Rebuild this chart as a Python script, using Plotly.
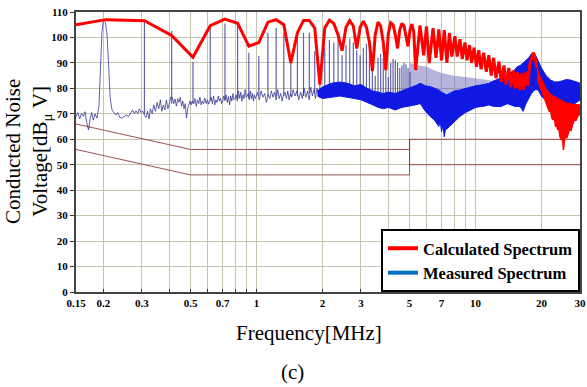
import plotly.graph_objects as go

# ---------------- data ----------------
# Calculated spectrum (red) – vertices at harmonics / lobe peaks & dips
RED_F = [0.15, 0.205, 0.308, 0.41, 0.513, 0.615, 0.718, 0.82, 0.923, 1.025,
         1.128, 1.23, 1.333, 1.435, 1.538, 1.64, 1.743, 1.845, 1.948, 2.05,
         2.153, 2.255, 2.358, 2.46, 2.563, 2.665, 2.768, 2.87, 2.973, 3.075,
         3.178, 3.28, 3.383, 3.485, 3.588, 3.69, 3.793, 3.895, 3.998, 4.1,
         4.203, 4.305, 4.408, 4.51, 4.613, 4.715, 4.818, 4.92, 5.023, 5.125,
         5.228, 5.33, 5.58, 5.8, 5.97, 6.15, 6.4, 6.6, 6.8, 7.0, 7.2, 7.4, 7.6,
         7.8, 8.05, 8.25, 8.5, 8.7, 8.95, 9.15, 9.4, 9.6, 9.85, 10.1, 10.35,
         10.6, 10.9, 11.2, 11.5, 11.8, 12.1, 12.4, 12.8, 13.1, 13.5, 13.8,
         14.2, 14.5, 14.9, 15.2, 15.6, 15.9, 16.3, 16.6, 17.0, 17.3, 17.7,
         18.1, 18.4, 18.7, 19.1]
RED_V = [105, 107, 106.6, 100.8, 92.2, 104.6, 107.2, 105.6, 96.6, 98.0,
         106, 107, 105, 90, 101.8, 106.7, 106.7, 103.7, 81.5, 103.7,
         106.8, 105.5, 101, 94.8, 104, 106.6, 104.5, 95.7, 104, 106.4,
         104, 98, 86.8, 101, 106, 104.5, 98, 87.2, 101.5, 105.8,
         105, 101, 95.7, 103, 105.5, 104.5, 100.5, 96.5, 103, 105.3,
         102, 87.2, 104.7, 93, 104.3, 89.9, 103.7, 92, 103.2, 91, 102.9, 90, 101.8,
         92.5, 100.5, 92.5, 99.3, 91.5, 98, 91, 97, 90, 96, 88.5, 95,
         87.5, 94, 86.5, 93, 85, 92, 84, 90.5, 82.5, 89, 81.5,
         88, 80.5, 87, 80, 86.3, 79.5, 86, 79.5, 86.5, 81, 89.5,
         92.5, 94, 92, 88]
# red dense region above 19 MHz: upper and lower edges
RED_TOP_F = [19.1, 19.7, 20.4, 21.1, 22.0, 23.5, 25.0, 26.1, 28.0, 30.0]
RED_TOP_V = [88, 84.6, 82, 79.4, 77.5, 76.1, 75, 74.1, 73.7, 73.5]
RED_BOT_F = [19.1, 19.7, 20.2, 20.6, 21.0, 21.3, 21.7, 22.0, 22.3, 22.6, 22.9,
             23.2, 23.5, 23.7, 24.0, 24.3, 24.7, 24.9, 25.2, 25.5, 25.8, 26.1,
             26.5, 26.9, 27.3, 27.8, 28.3, 28.8, 29.3, 29.7, 30.0]
RED_BOT_V = [84, 80.7, 78, 76, 74, 72.8, 71, 71.5, 68.5, 67.6, 68.5,
             65, 66, 63.7, 64.5, 61, 59.7, 62, 55.8, 60, 61.5, 60.5,
             62.5, 64, 63.5, 66, 67.6, 67.5, 69, 69.5, 70]

# Measured spectrum (blue) – low-frequency trace
FLOOR_F = [0.150, 0.153, 0.156, 0.159, 0.162, 0.165, 0.168, 0.171, 0.174, 0.177,
           0.180, 0.183, 0.187, 0.191, 0.194, 0.197, 0.200, 0.204, 0.208, 0.211,
           0.215, 0.219, 0.223, 0.228, 0.233, 0.238, 0.243, 0.249, 0.255, 0.261,
           0.267, 0.272, 0.277, 0.282, 0.287, 0.292, 0.297, 0.303, 0.308, 0.313,
           0.318, 0.323, 0.328, 0.334, 0.340, 0.346, 0.352, 0.358, 0.364, 0.370,
           0.376, 0.382, 0.388, 0.394, 0.400, 0.406, 0.413, 0.419, 0.425, 0.431,
           0.437, 0.443, 0.449, 0.455, 0.461, 0.467, 0.473, 0.479, 0.485, 0.491,
           0.497, 0.503, 0.509, 0.517, 0.524, 0.531, 0.538, 0.545, 0.552, 0.559,
           0.566, 0.573, 0.581, 0.589, 0.597, 0.605, 0.613, 0.621, 0.629, 0.637,
           0.645, 0.653, 0.661, 0.669, 0.677, 0.685, 0.693, 0.701, 0.709, 0.718,
           0.727, 0.736, 0.745, 0.754, 0.763, 0.772, 0.781, 0.790, 0.799, 0.808,
           0.818, 0.828, 0.838, 0.848, 0.858, 0.868, 0.878, 0.888, 0.898, 0.908,
           0.918, 0.928, 0.938, 0.948, 0.958, 0.968, 0.978, 0.988, 0.998, 1.01,
           1.03, 1.05, 1.07, 1.09, 1.11, 1.13, 1.15, 1.17, 1.19, 1.21, 1.23, 1.25,
           1.27, 1.29, 1.31, 1.33, 1.35, 1.37, 1.39, 1.41, 1.43, 1.45, 1.47, 1.50,
           1.53, 1.56, 1.59, 1.62, 1.65, 1.68, 1.71, 1.74, 1.77, 1.80, 1.83, 1.86,
           1.89, 1.92, 1.95]
FLOOR_V = [68.9, 70.5, 68.0, 70.2, 69.0, 70.8, 66.5, 63.7, 68.0, 70.5,
           67.5, 70.0, 68.3, 73, 88, 102, 106.8, 106.2, 101, 88,
           76, 71.5, 70.5, 69.5, 70.5, 68.5, 68.3, 68.8, 69.5, 69.0,
           70.5, 71.5, 70.0, 71.2, 70.0, 72.0, 70.5, 71, 69.5, 68.5,
           71.0, 68.0, 72.0, 70.0, 73.5, 71.0, 74.5, 72.0, 75.5, 71.0,
           73.5, 71.5, 75.4, 72.0, 74.0, 76.5, 76.5, 74.0, 75.8, 73.0,
           76.0, 74.5, 76.5, 73.0, 75.0, 72.0, 74.0, 68.3, 72.0, 74.0,
           75.0, 73.5, 75, 74.0, 76.0, 73.0, 75.5, 74.0, 76.5, 73.5,
           75.0, 74.0, 76.2, 74.0, 75.5, 73.8, 75.5, 76.5, 74.0, 77.0,
           73.5, 75.5, 74.5, 77.0, 75.0, 76.2, 74.0, 75.0, 77.0, 75.5,
           77.5, 74.5, 76.8, 73.5, 77.0, 75.0, 78.0, 75.5, 76.0, 77.5,
           75.0, 79.0, 76.0, 78.5, 75.0, 77.5, 76.0, 79.5, 76.5, 77.0,
           78.0, 75.5, 79.0, 76.0, 78.0, 75.0, 77.5, 76.0, 77.0, 78.5,
           75.5, 79.0, 76.5, 78.0, 74.5, 77.5, 76.0, 79.0, 76.5, 78.5, 75.5, 79.5,
           76.0, 78.0, 75.0, 77.5, 78.5, 76.0, 79.0, 75.5, 78.0, 76.5, 79.5, 77,
           79.0, 75.5, 78.5, 76.0, 80.0, 76.5, 79.0, 75.5, 80.5, 77.0, 79.5, 76.0,
           80.0, 77.5, 79.0]

# harmonic spikes of the measured spectrum
SPIKE_F = [0.308, 0.41, 0.513, 0.615, 0.718, 0.82, 0.923, 1.025, 1.128, 1.23,
           1.333, 1.435, 1.538, 1.64, 1.743, 1.845, 1.948, 2.05, 2.153, 2.255,
           2.358, 2.46, 2.563, 2.665, 2.768, 2.87, 2.973, 3.075, 3.178, 3.28,
           3.383, 3.485, 3.588, 3.69, 3.793, 3.895, 3.998, 4.1, 4.203, 4.305,
           4.408, 4.51, 4.613, 4.715, 4.818, 4.92, 5.023]
SPIKE_V = [106.2, 102.5, 90.5, 104.3, 105.5, 105.2, 94, 92.7, 101.8, 103.7,
           101.8, 90, 99.8, 101.8, 101.8, 94.7, 85.4, 95.9, 99, 98,
           101, 93, 97, 99.5, 98, 95, 93, 96, 97.5, 95,
           88, 85, 92, 93.5, 92, 89, 84.5, 90, 91.5, 91,
           90, 88, 89, 90, 89.5, 88, 86.5]
SPIKE_BASE = [70, 74, 74, 75, 75, 76, 76, 77, 77, 77,
              77, 77, 77, 77, 78, 78, 78, 78, 79, 79,
              79, 79, 79, 78, 78, 78, 78, 78, 77, 77,
              76, 76, 75, 75, 75, 75, 75, 75, 75, 75,
              75, 75, 76, 76, 76, 77, 77]

# dense measured band (1.9 – 30 MHz)
BAND_TOP_F = [1.9, 2.0, 2.2, 2.4, 2.6, 2.8, 3.0, 3.2, 3.4, 3.6, 3.8,
              4.0, 4.3, 4.6, 5.0, 5.3, 5.6, 5.9, 6.2, 6.5, 6.8, 7.0, 7.2, 7.4,
              7.6, 8.0, 8.5, 9.0, 9.5, 10, 10.5, 11, 11.5, 12, 13, 14, 15, 15.5,
              16, 16.5, 17, 17.5, 18, 18.4, 18.8, 19.3, 20, 21, 22, 23, 24, 25,
              26, 27, 28, 29, 30]
BAND_TOP_V = [79, 80.5, 82, 82.5, 82, 81, 81.5, 80, 79, 78.5, 78,
              78.5, 78, 79, 80, 81, 82, 81, 80.7, 80, 79.4, 78.5, 78, 77.5,
              78, 79, 79.4, 80, 80.7, 81, 81.3, 81.8, 82, 82.8, 84, 85.5, 87, 88.5,
              89, 90, 91, 92, 93.5, 94, 93, 91, 88, 85, 83.3, 82.5, 82.6, 83,
              83.5, 83.3, 83, 82.5, 82]
BAND_BOT_F = [1.9, 2.0, 2.2, 2.4, 2.6, 2.8, 3.0, 3.2, 3.4, 3.6, 3.8,
              4.0, 4.3, 4.6, 5.0, 5.3, 5.6, 5.9, 6.2, 6.4, 6.5, 6.7, 6.8, 6.9,
              7.0, 7.1, 7.2, 7.3, 7.4, 7.6, 8.0, 8.5, 9.0, 9.5, 10, 10.5, 11,
              11.5, 12, 13, 14, 15, 16, 16.5, 17, 17.5, 18, 18.4, 18.8, 19.3,
              20, 21, 22, 23, 24, 25, 26, 27, 28, 29, 30]
BAND_BOT_V = [77, 76, 76.5, 77, 76.5, 76, 75.5, 74.5, 73.5, 72.5,
              72, 72.5, 71.5, 72.5, 73, 73.5, 74, 71, 69, 68, 67.5, 66, 65, 67,
              63, 65.5, 61, 64, 64, 65, 67, 69, 70.5, 71.5, 72.5, 72.8, 73,
              73.5, 73, 72.8, 74, 73, 72.8, 71, 74, 76, 78, 79, 79.5, 79.4,
              77, 75, 73.5, 73, 72.8, 73.5, 73, 72.8, 73.5, 74.5, 75.4]
# lighter overlapping spikes above the band (5 – 12 MHz)
LAV_F = [5.0, 5.5, 6.0, 6.5, 7.0, 7.5, 8.0, 9.0, 10.0, 11.0, 12.0]
LAV_V = [90, 89, 88.5, 87, 86, 85.5, 85, 84.5, 84, 83.5, 83]
LAV_BASE = [80, 81.5, 81, 80, 78.5, 77.8, 79, 80, 81, 81.8, 82.8]

# limit lines
LIM_F = [0.15, 0.5, 5, 5, 30]
LIM_QP = [66, 56, 56, 60, 60]
LIM_AV_F = [0.15, 0.5, 5, 5, 5, 30]
LIM_AV = [56, 46, 46, 60, 50, 50]

X_TICKS = [0.15, 0.2, 0.3, 0.4, 0.5, 0.6, 0.7, 0.8, 0.9, 1, 2, 3, 4, 5, 6, 7, 8, 9, 10, 20, 30]
X_TEXT = ["0.15", "0.2", "0.3", "", "0.5", "", "0.7", "", "", "1", "2", "3", "", "5", "", "7", "", "", "10", "20", "30"]
Y_TICKS = list(range(0, 111, 10))

SERIF = "Liberation Serif"
RED = "#ff0000"
BLUE_DENSE = "rgb(15,25,225)"
BLUE_THIN = "rgba(45,45,140,0.75)"
LIMIT = "rgba(145,60,60,0.9)"

fig = go.Figure()

# limit lines
fig.add_trace(go.Scatter(x=LIM_F, y=LIM_QP, mode="lines", line=dict(color=LIMIT, width=1), showlegend=False))
fig.add_trace(go.Scatter(x=LIM_AV_F, y=LIM_AV, mode="lines", line=dict(color=LIMIT, width=1), showlegend=False))

# lavender overlapping spikes region
fig.add_trace(go.Scatter(x=LAV_F + LAV_F[::-1], y=LAV_V + LAV_BASE[::-1], mode="lines",
                         fill="toself", fillcolor="rgba(105,105,185,0.5)",
                         line=dict(width=0), showlegend=False))

# measured low-frequency trace
fig.add_trace(go.Scatter(x=FLOOR_F, y=FLOOR_V, mode="lines", line=dict(color=BLUE_THIN, width=1), showlegend=False))

# harmonic spikes
sx, sy = [], []
for f, v, b in zip(SPIKE_F, SPIKE_V, SPIKE_BASE):
    sx += [f, f, None]
    sy += [b, v, None]
fig.add_trace(go.Scatter(x=sx, y=sy, mode="lines", line=dict(color=BLUE_THIN, width=1.2), showlegend=False))

# dense band
fig.add_trace(go.Scatter(x=BAND_TOP_F + BAND_BOT_F[::-1], y=BAND_TOP_V + BAND_BOT_V[::-1],
                         mode="lines", fill="toself", fillcolor=BLUE_DENSE,
                         line=dict(color=BLUE_DENSE, width=1), showlegend=False))

# calculated spectrum
fig.add_trace(go.Scatter(x=RED_F, y=RED_V, mode="lines", line=dict(color=RED, width=3), showlegend=False))
fig.add_trace(go.Scatter(x=RED_TOP_F + RED_BOT_F[::-1], y=RED_TOP_V + RED_BOT_V[::-1],
                         mode="lines", fill="toself", fillcolor=RED,
                         line=dict(color=RED, width=1.5), showlegend=False))

# legend entries
fig.add_trace(go.Scatter(x=[None], y=[None], mode="lines", name="Calculated Spectrum",
                         line=dict(color="#ff0000", width=4)))
fig.add_trace(go.Scatter(x=[None], y=[None], mode="lines", name="Measured Spectrum",
                         line=dict(color="#0070c0", width=4)))

grid = "rgb(200,196,178)"
fig.update_layout(
    width=587, height=387,
    margin=dict(l=76, r=7, t=12, b=95, autoexpand=False),
    paper_bgcolor="white", plot_bgcolor="white",
    font=dict(family=SERIF, color="black"),
    showlegend=True,
    legend=dict(x=1, y=0, xanchor="right", yanchor="bottom",
                bgcolor="white", bordercolor="black", borderwidth=2,
                font=dict(family=SERIF, size=16.5, weight="bold", color="black"),
                tracegroupgap=0),
    xaxis=dict(type="log", range=[-0.8239, 1.4771], automargin=False,
               tickvals=X_TICKS, ticktext=X_TEXT,
               tickfont=dict(family=SERIF, size=11, weight="bold", color="black"),
               showgrid=True, gridcolor=grid, gridwidth=1,
               ticks="inside", ticklen=3, tickcolor="#333",
               showline=True, linecolor="#444", linewidth=2, mirror=True,
               zeroline=False),
    yaxis=dict(range=[0, 110], tickvals=Y_TICKS, automargin=False,
               tickfont=dict(family=SERIF, size=11, weight="bold", color="black"),
               showgrid=True, gridcolor=grid, gridwidth=1,
               ticks="outside", ticklen=4, tickcolor="#333",
               showline=True, linecolor="#444", linewidth=2, mirror=True,
               zeroline=False),
    annotations=[
        dict(text="Frequency[MHz]", x=0.462, y=-0.146, xref="paper", yref="paper",
             xanchor="center", yanchor="middle", showarrow=False,
             font=dict(family=SERIF, size=21, color="black")),
        dict(text="(c)", x=0.4286, y=-0.286, xref="paper", yref="paper",
             xanchor="center", yanchor="middle", showarrow=False,
             font=dict(family=SERIF, size=21, color="black")),
        dict(text="Conducted Noise<br>Voltage[dB<sub>μ</sub> V]", x=-0.0952, y=0.5,
             xref="paper", yref="paper", xanchor="center", yanchor="middle",
             textangle=-90, showarrow=False,
             font=dict(family=SERIF, size=21, color="black")),
    ],
)

fig.write_html("out.html")
